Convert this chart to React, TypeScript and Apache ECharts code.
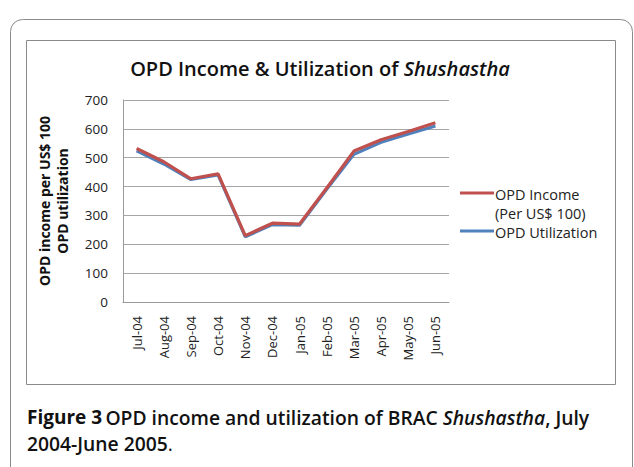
import React, { useEffect, useRef } from "react";
import * as echarts from "echarts";

const categories = ["Jul-04", "Aug-04", "Sep-04", "Oct-04", "Nov-04", "Dec-04", "Jan-05", "Feb-05", "Mar-05", "Apr-05", "May-05", "Jun-05"];
const incomeValues = [532, 486, 427, 444, 230, 273, 270, 395, 523, 562, 591, 621];
const utilizationValues = [524, 478, 424, 440, 226, 268, 266, 390, 512, 553, 582, 610];
const yTicks = [0, 100, 200, 300, 400, 500, 600, 700];
const seriesNames = ["OPD Income\n(Per US$ 100)", "OPD Utilization"];

const FONT = "'Open Sans', 'Noto Sans', sans-serif";

export default function App() {
  const ref = useRef<HTMLDivElement>(null);
  useEffect(() => {
    if (!ref.current) return;
    const chart = echarts.init(ref.current, undefined, { renderer: "svg" });
    chart.setOption({
      animation: false,
      backgroundColor: "#fff",
      textStyle: { fontFamily: FONT },
      grid: { left: 123, right: 185, top: 100, bottom: 165, containLabel: false },
      xAxis: {
        type: "category",
        data: categories,
        boundaryGap: true,
        axisLine: { show: true, lineStyle: { color: "#9a9a9a", width: 1 } },
        axisTick: { show: false },
        axisLabel: { rotate: 90, fontSize: 13, color: "#222", fontFamily: FONT, margin: 14, interval: 0 },
      },
      yAxis: {
        type: "value",
        min: yTicks[0],
        max: yTicks[yTicks.length - 1],
        interval: 100,
        axisLine: { show: true, lineStyle: { color: "#9a9a9a", width: 1 } },
        axisTick: { show: false },
        splitLine: { lineStyle: { color: "#a6a6a6", width: 1 } },
        axisLabel: { fontSize: 13.5, color: "#222", fontFamily: FONT, margin: 15 },
        name: "OPD income per US$ 100\nOPD utilization",
        nameLocation: "middle",
        nameGap: 52,
        nameTextStyle: { fontSize: 14, fontWeight: "bold", color: "#111", fontFamily: FONT, lineHeight: 18 },
      },
      series: [
        {
          name: seriesNames[1],
          type: "line",
          data: utilizationValues,
          symbol: "none",
          lineStyle: { color: "#4F81BD", width: 3 },
          z: 2,
        },
        {
          name: seriesNames[0],
          type: "line",
          data: incomeValues,
          symbol: "none",
          lineStyle: { color: "#C0504D", width: 3.2 },
          z: 3,
        },
      ],
      graphic: [
        { type: "rect", shape: { x: 10.5, y: 19.5, width: 622, height: 470, r: 12 }, style: { fill: "none", stroke: "#8a8a8a", lineWidth: 1 }, silent: true },
        { type: "rect", shape: { x: 26.5, y: 40.5, width: 589, height: 344 }, style: { fill: "none", stroke: "#8a8a8a", lineWidth: 1 }, silent: true },
        {
          type: "text",
          x: 320,
          y: 68,
          style: {
            text: "{n|OPD Income & Utilization of }{i|Shushastha}",
            align: "center",
            verticalAlign: "middle",
            rich: {
              n: { fontSize: 20, fontWeight: 600, fontFamily: FONT, fill: "#111" },
              i: { fontSize: 20, fontWeight: 600, fontStyle: "italic", fontFamily: FONT, fill: "#111" },
            },
          },
        },
        { type: "line", shape: { x1: 460, y1: 193, x2: 494, y2: 193 }, style: { stroke: "#C0504D", lineWidth: 3 } },
        { type: "text", x: 495, y: 194, style: { text: "OPD Income", fontSize: 14.5, fontFamily: FONT, fill: "#222", verticalAlign: "middle" } },
        { type: "text", x: 495, y: 213, style: { text: "(Per US$ 100)", fontSize: 14.5, fontFamily: FONT, fill: "#222", verticalAlign: "middle" } },
        { type: "line", shape: { x1: 460, y1: 231, x2: 494, y2: 231 }, style: { stroke: "#4F81BD", lineWidth: 3 } },
        { type: "text", x: 495, y: 232, style: { text: "OPD Utilization", fontSize: 14.5, fontFamily: FONT, fill: "#222", verticalAlign: "middle" } },
        {
          type: "text",
          x: 27,
          y: 417,
          style: {
            text: "{b|Figure 3} {s|OPD income and utilization of BRAC }{si|Shushastha}{s|, July}",
            verticalAlign: "middle",
            rich: {
              b: { fontSize: 19, fontWeight: "bold", fontFamily: FONT, fill: "#111" },
              s: { fontSize: 19.3, fontWeight: 600, fontFamily: FONT, fill: "#111" },
              si: { fontSize: 19.3, fontWeight: 600, fontStyle: "italic", fontFamily: FONT, fill: "#111" },
            },
          },
        },
        {
          type: "text",
          x: 27,
          y: 443,
          style: {
            text: "{s|2004-June 2005}{n|.}",
            verticalAlign: "middle",
            rich: {
              s: { fontSize: 19.3, fontWeight: 600, fontFamily: FONT, fill: "#111" },
              n: { fontSize: 19.3, fontWeight: "normal", fontFamily: FONT, fill: "#111" },
            },
          },
        },
      ],
    });
    return () => chart.dispose();
  }, []);
  return <div ref={ref} style={{ position: "absolute", left: 0, top: 0, width: 634, height: 467 }} />;
}
